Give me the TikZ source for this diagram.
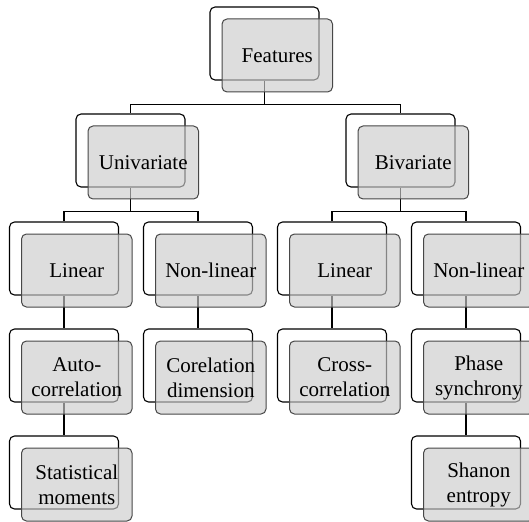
\documentclass[tikz,border=0pt]{standalone}
\usepackage{fontspec}
\setmainfont{Liberation Serif}
\begin{document}
\begin{tikzpicture}[x=1pt,y=-1pt,
  backbox/.style={draw=black, line width=1.1pt, rounded corners=5pt, fill=white,
    minimum width=109pt, minimum height=73pt, inner sep=0pt},
  frontbox/.style={draw=black!72, line width=1pt, rounded corners=5pt,
    fill=black!20, fill opacity=0.65, text opacity=1,
    minimum width=110.5pt, minimum height=73pt, inner sep=0pt, align=center,
    xshift=12.75pt, yshift=-12pt, font=\fontsize{21}{25}\selectfont},
  link/.style={draw=black, line width=1.3pt}]
\useasboundingbox (0,0) rectangle (529,521);
% back boxes
\node[backbox] (fb) at (264.5,43.5) {};
\node[backbox] (ub) at (130.5,150.5) {};
\node[backbox] (bb) at (400.5,150.5) {};
\node[backbox] (ulb) at (64,258.5) {};
\node[backbox] (unb) at (198,258.5) {};
\node[backbox] (blb) at (332,258.5) {};
\node[backbox] (bnb) at (466,258.5) {};
\node[backbox] (acb) at (64,365.5) {};
\node[backbox] (cdb) at (198,365.5) {};
\node[backbox] (ccb) at (332,365.5) {};
\node[backbox] (psb) at (466,365.5) {};
\node[backbox] (smb) at (64,472.5) {};
\node[backbox] (seb) at (466,472.5) {};
% connectors
\draw[link] (fb.south) -- ++(0,24) coordinate (j1);
\draw[link] (j1) -| (ub.north);
\draw[link] (j1) -| (bb.north);
\draw[link] (ub.south) -- ++(0,24) coordinate (j2);
\draw[link] (j2) -| (ulb.north);
\draw[link] (j2) -| (unb.north);
\draw[link] (bb.south) -- ++(0,24) coordinate (j3);
\draw[link] (j3) -| (blb.north);
\draw[link] (j3) -| (bnb.north);
\draw[link] (ulb.south) -- (acb.north);
\draw[link] (unb.south) -- (cdb.north);
\draw[link] (blb.south) -- (ccb.north);
\draw[link] (bnb.south) -- (psb.north);
\draw[link] (acb.south) -- (smb.north);
\draw[link] (psb.south) -- (seb.north);
% front boxes with text
\node[frontbox] (f) at (fb) {Features};
\node[frontbox] (u) at (ub) {Univariate};
\node[frontbox] (b) at (bb) {Bivariate};
\node[frontbox] (ul) at (ulb) {Linear};
\node[frontbox] (un) at (unb) {Non-linear};
\node[frontbox] (bl) at (blb) {Linear};
\node[frontbox] (bn) at (bnb) {Non-linear};
\node[frontbox] (ac) at (acb) {Auto-\\correlation};
\node[frontbox] (cd) at (cdb) {Corelation\\dimension};
\node[frontbox] (cc) at (ccb) {Cross-\\correlation};
\node[frontbox] (ps) at (psb) {Phase\\synchrony};
\node[frontbox] (sm) at (smb) {Statistical\\moments};
\node[frontbox] (se) at (seb) {Shanon\\entropy};
\end{tikzpicture}
\end{document}
